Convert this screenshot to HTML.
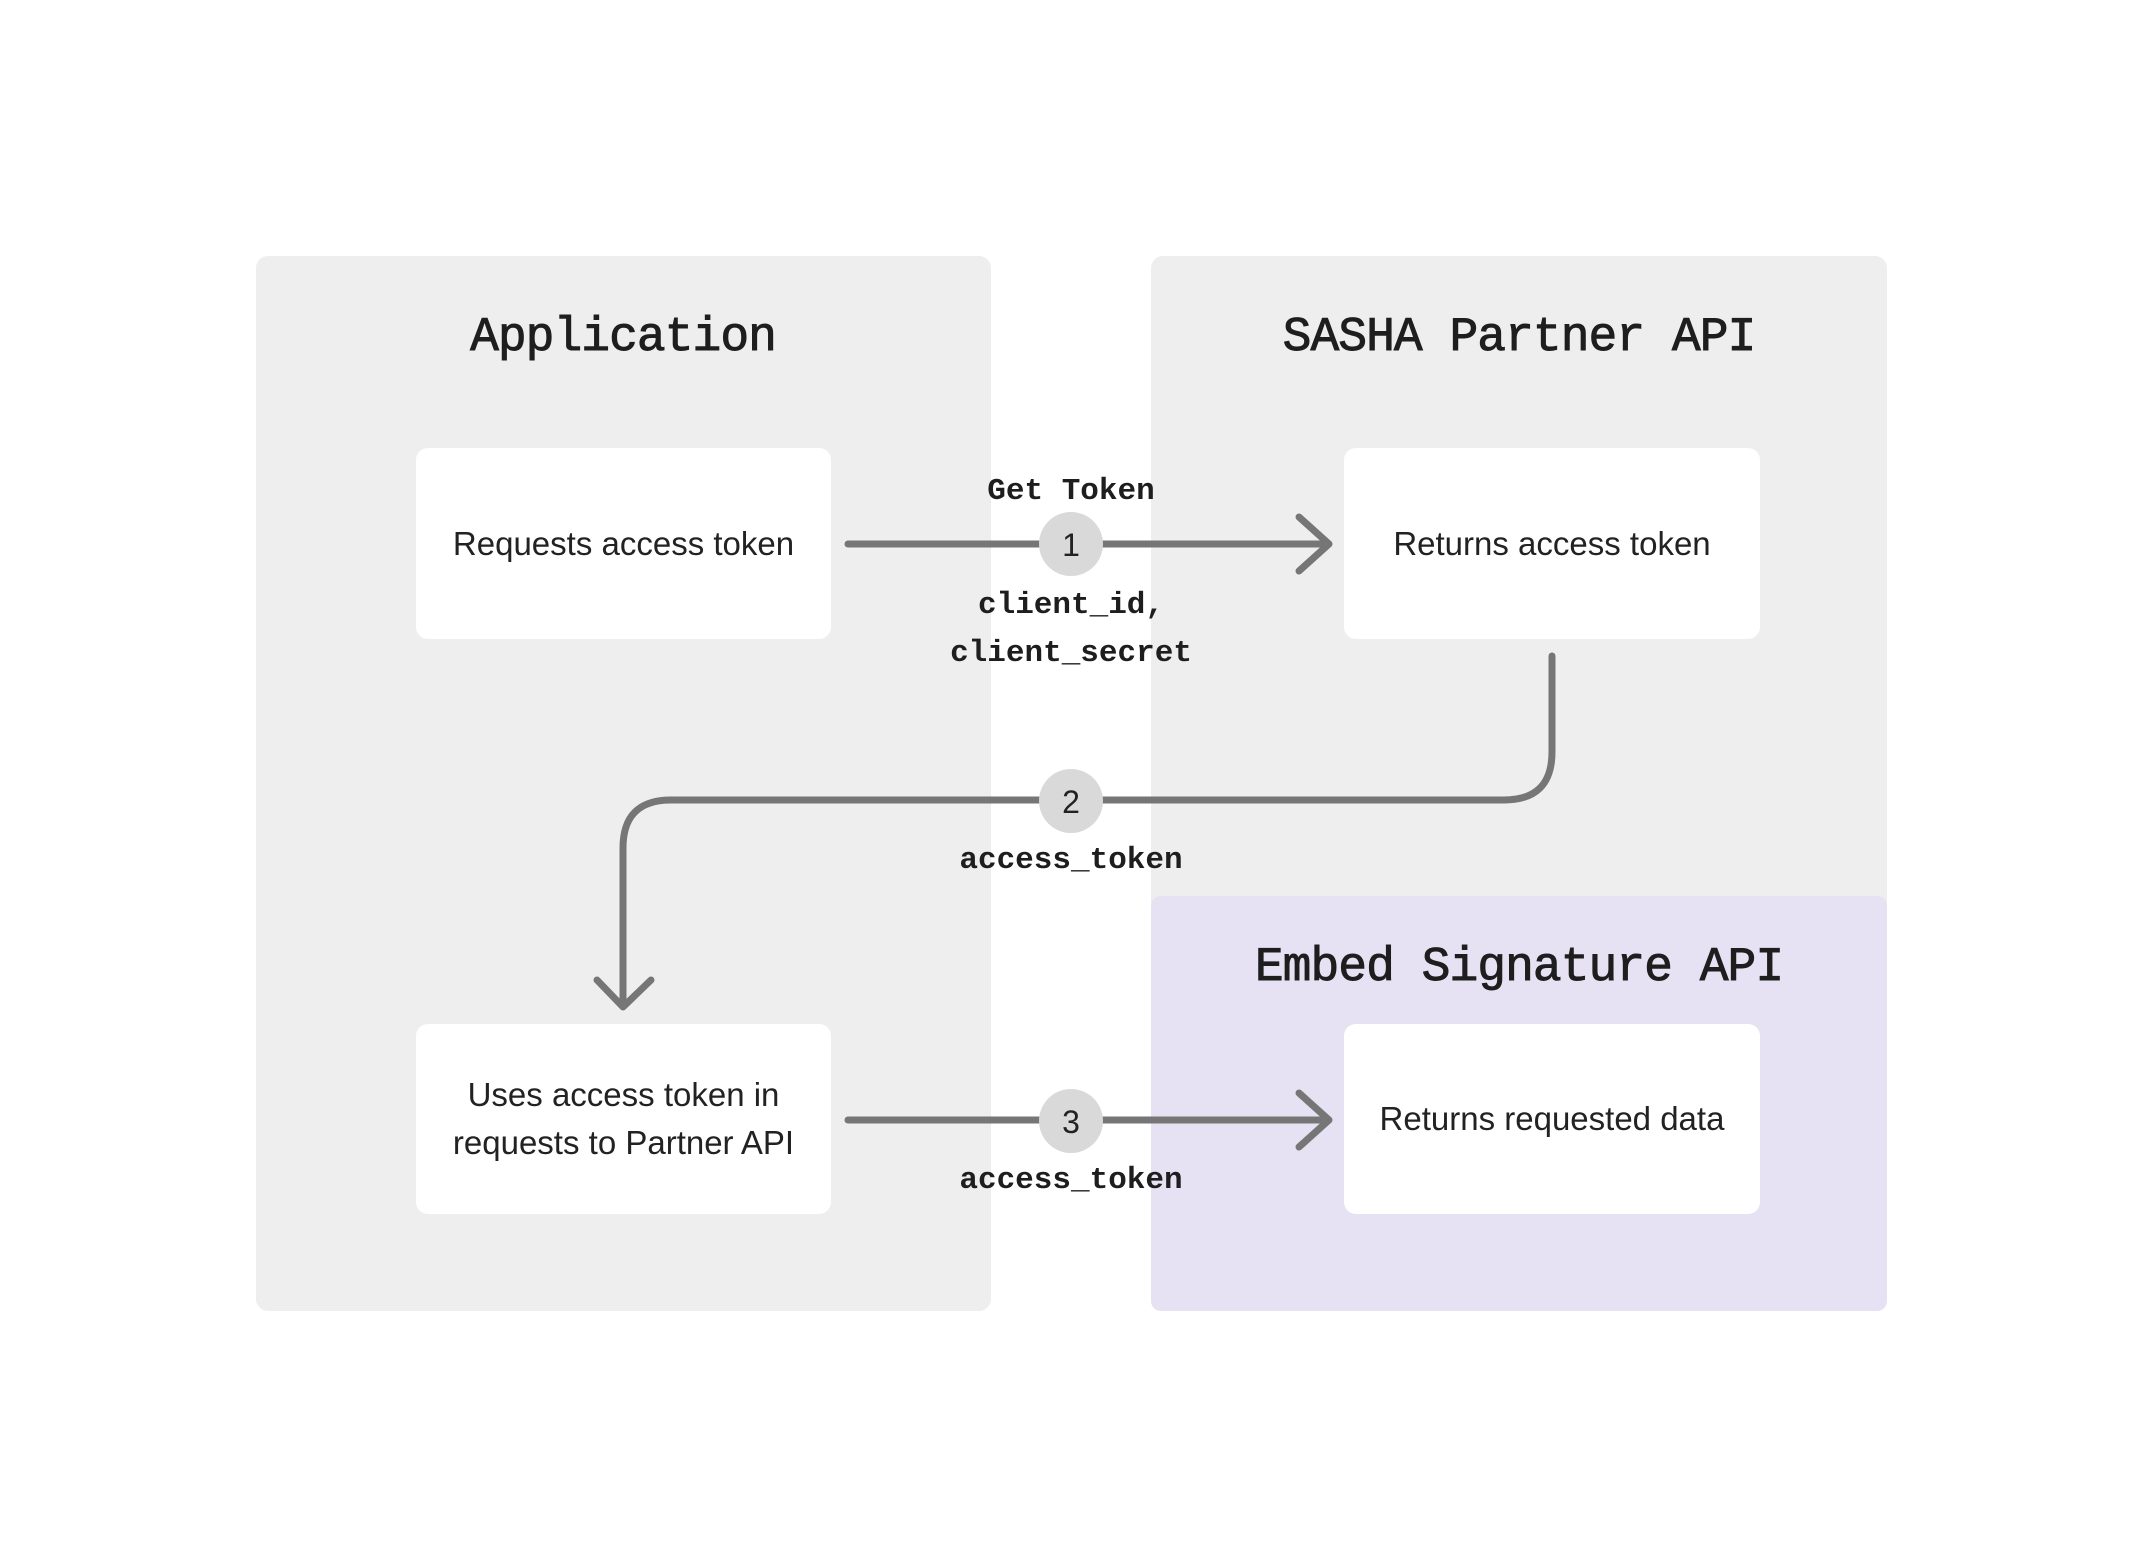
<!DOCTYPE html>
<html><head><meta charset="utf-8"><style>
body{margin:0;width:2144px;height:1568px;background:#fff;position:relative;overflow:hidden}
.p{position:absolute;border-radius:12px}
.b{position:absolute;background:#fff;border-radius:12px;display:flex;align-items:center;justify-content:center;text-align:center;font-family:"Liberation Sans",sans-serif;font-size:33px;line-height:48px;color:#222}
.t{position:absolute;font-family:"Liberation Mono",monospace;font-size:48px;color:#1e1e1e;transform:translate(-50%,-50%);white-space:nowrap;letter-spacing:-1px;-webkit-text-stroke:0.9px #1e1e1e}
svg{position:absolute;left:0;top:0}
</style></head><body>
<div class="p" style="left:256px;top:256px;width:735px;height:1055px;background:#eeeeee"></div>
<div class="p" style="left:1151px;top:256px;width:736px;height:1055px;background:#eeeeee"></div>
<div class="p" style="left:1151px;top:896px;width:736px;height:415px;background:#e6e2f3;border-radius:10px"></div>
<div class="t" style="left:623px;top:338px">Application</div>
<div class="t" style="left:1519px;top:338px">SASHA Partner API</div>
<div class="t" style="left:1519px;top:968px">Embed Signature API</div>
<div class="b" style="left:416px;top:448px;width:415px;height:191px">Requests access token</div>
<div class="b" style="left:1344px;top:448px;width:416px;height:191px">Returns access token</div>
<div class="b" style="left:416px;top:1024px;width:415px;height:190px">Uses access token in<br>requests to Partner API</div>
<div class="b" style="left:1344px;top:1024px;width:416px;height:190px">Returns requested data</div>
<svg width="2144" height="1568" viewBox="0 0 2144 1568">
<g fill="none" stroke="#767676" stroke-width="7" stroke-linecap="round" stroke-linejoin="round">
<path d="M848 544H1329M1299 517L1329 544L1299 571"/>
<path d="M1552 656V752Q1552 800 1504 800H671Q623 800 623 848V1005M597 980L623 1007L651 980"/>
<path d="M848 1120H1329M1299 1093L1329 1120L1299 1147"/>
</g>
<g fill="#d9d9d9"><circle cx="1071" cy="544" r="32"/><circle cx="1071" cy="801" r="32"/><circle cx="1071" cy="1121" r="32"/></g>
<g font-family="Liberation Sans, sans-serif" font-size="32" fill="#222" text-anchor="middle">
<text x="1071" y="556">1</text><text x="1071" y="813">2</text><text x="1071" y="1133">3</text></g>
<g font-family="Liberation Mono, monospace" font-size="31" font-weight="bold" fill="#1e1e1e" text-anchor="middle">
<text x="1071" y="499">Get Token</text>
<text x="1071" y="613">client_id,</text>
<text x="1071" y="661">client_secret</text>
<text x="1071" y="868">access_token</text>
<text x="1071" y="1188">access_token</text>
</g>
</svg>
</body></html>
